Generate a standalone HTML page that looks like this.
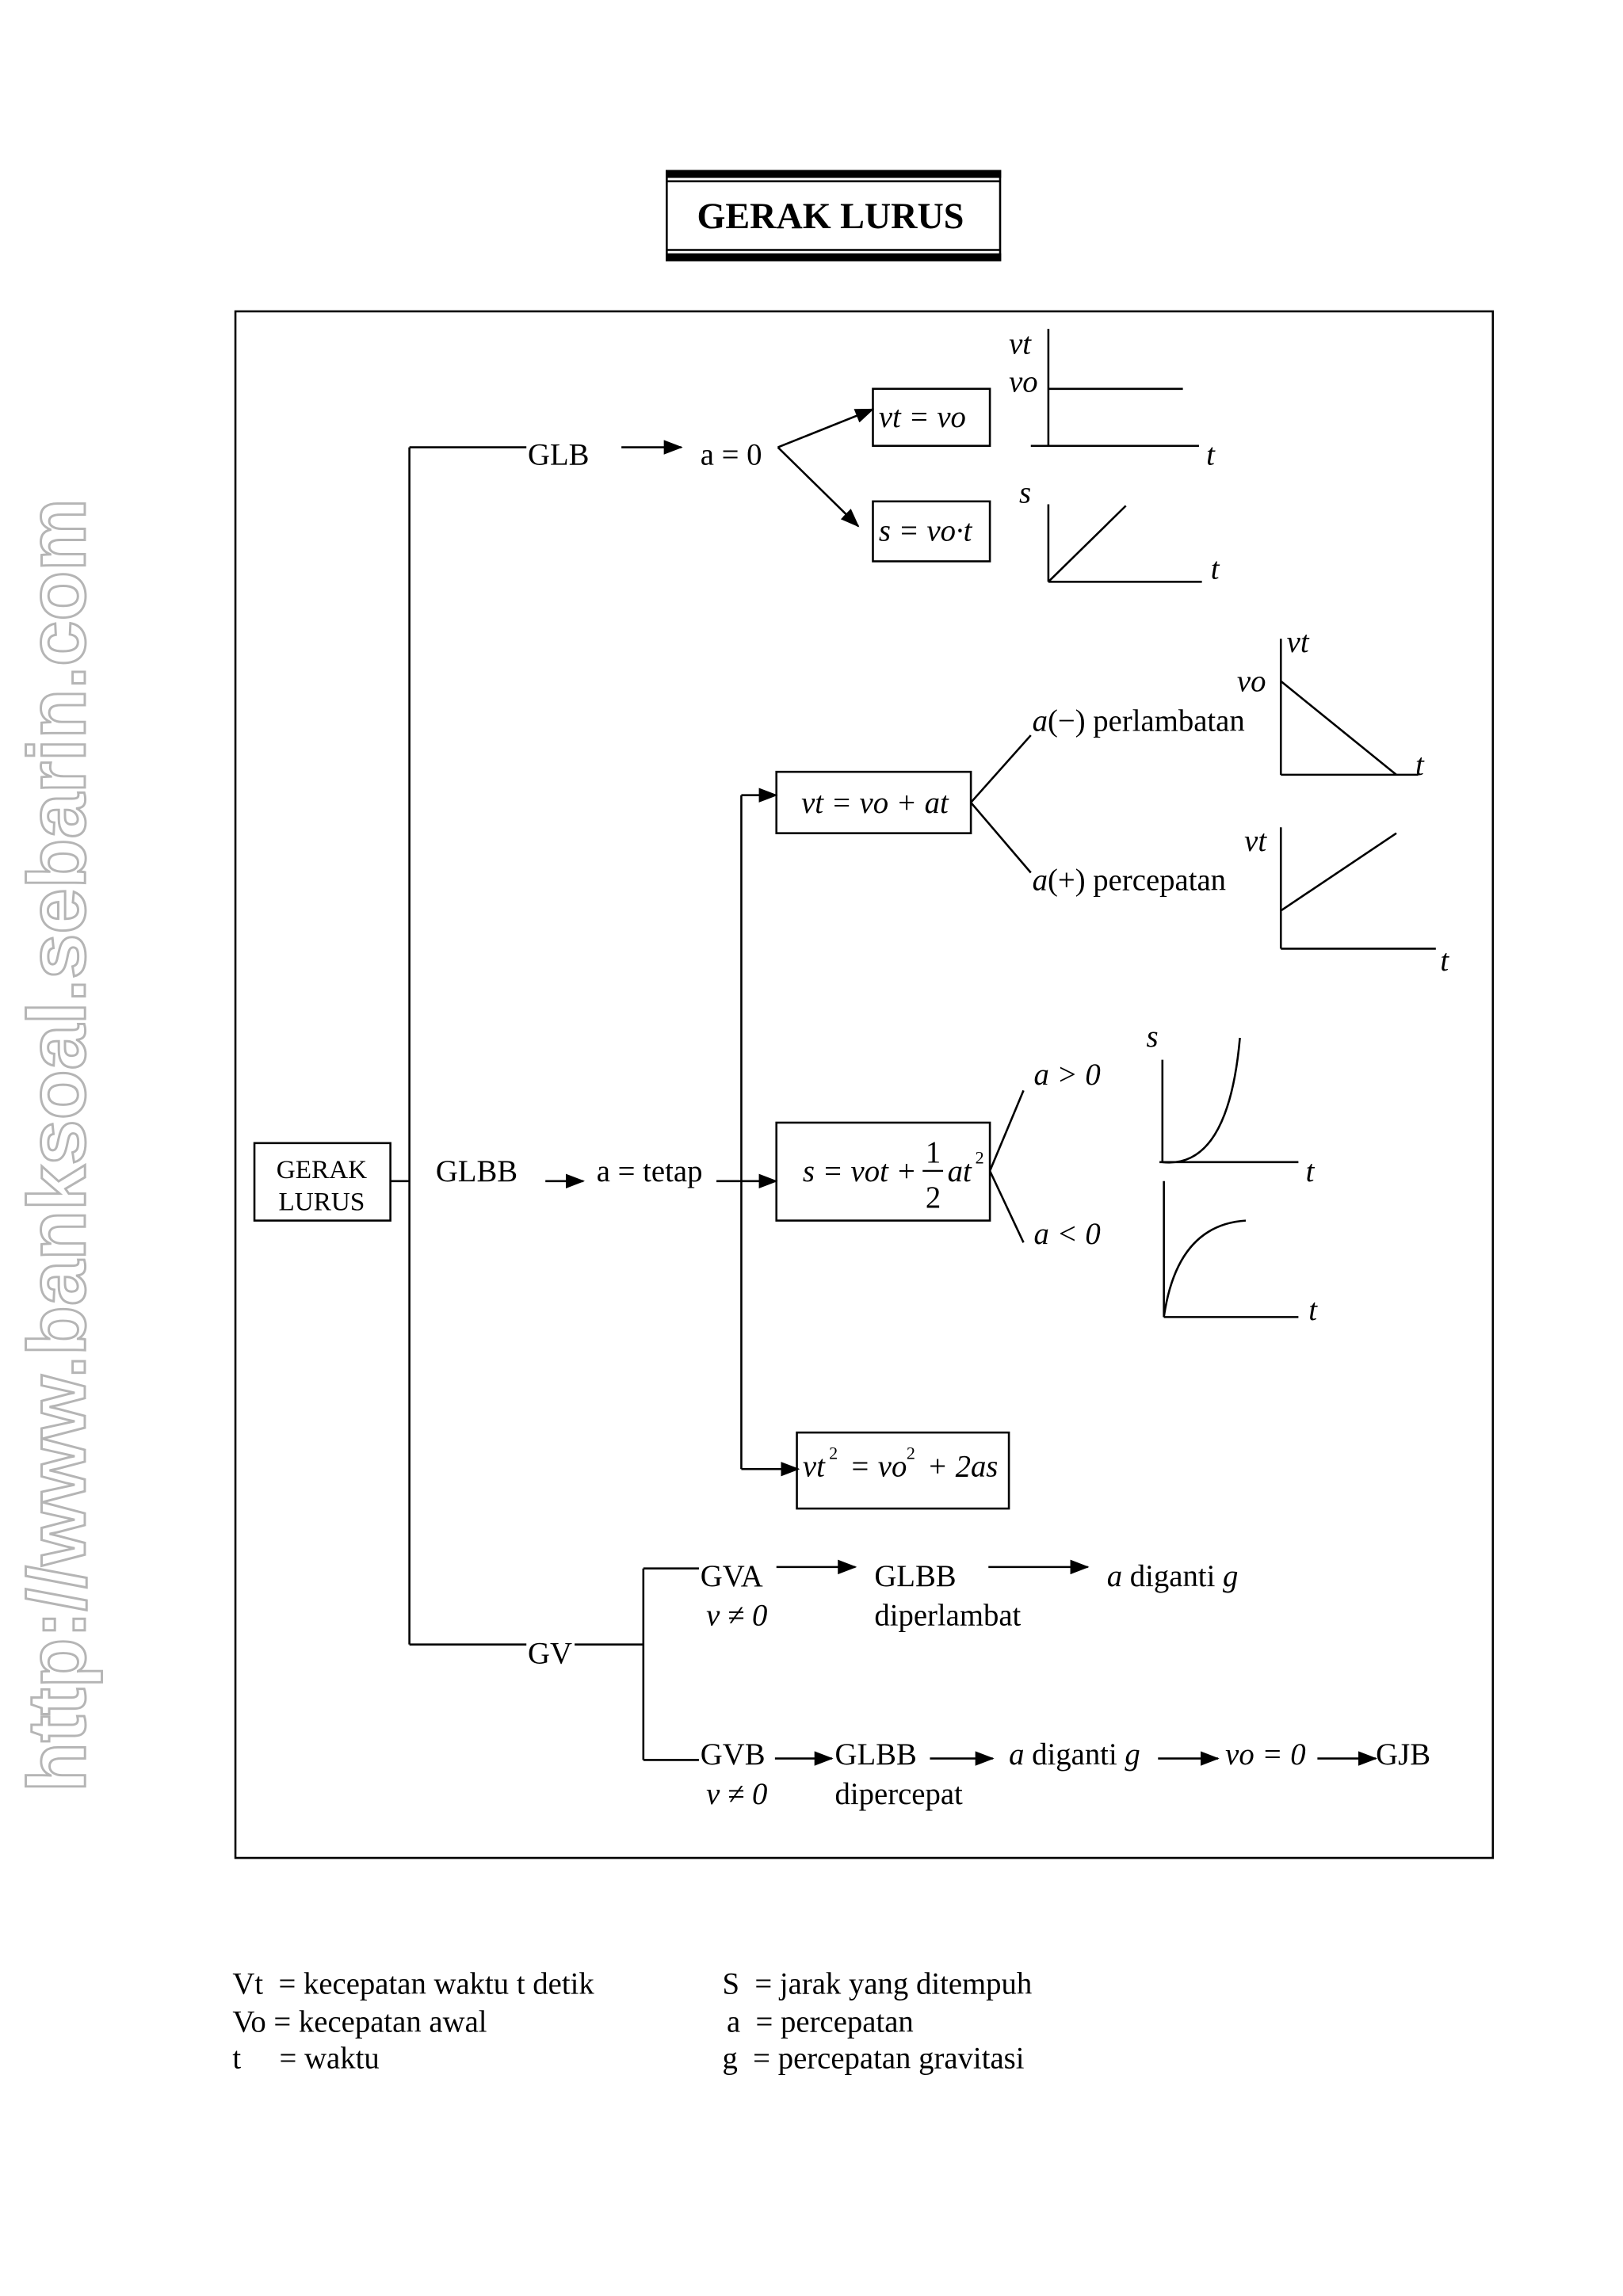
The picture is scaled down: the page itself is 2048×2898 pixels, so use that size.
<!DOCTYPE html>
<html><head><meta charset="utf-8"><style>
html,body{margin:0;padding:0;background:#fff}
svg{display:block}
text{font-family:"Liberation Serif",serif;fill:#000}
.i{font-style:italic}
</style></head><body>
<svg width="2048" height="2898" viewBox="0 0 1110 1570.7" xmlns="http://www.w3.org/2000/svg">
<defs><marker id="ah" markerWidth="13" markerHeight="10" refX="12" refY="5" orient="auto" markerUnits="userSpaceOnUse"><path d="M0,0 L13,5 L0,10 z" fill="#000"/></marker></defs>
<g stroke="#000" fill="none" stroke-width="1.4">
<text transform="translate(58,1226) rotate(-90)" x="0" y="0" textLength="885" lengthAdjust="spacingAndGlyphs" style="font-family:'Liberation Sans',sans-serif;font-weight:bold;font-size:56px;fill:#fff;stroke:#b5b5b5;stroke-width:1.6">http://www.banksoal.sebarin.com</text>
<rect x="456" y="117" width="228" height="61"/>
<rect x="456" y="117" width="228" height="4" fill="#000"/>
<line x1="456" y1="124" x2="684" y2="124"/>
<line x1="456" y1="171" x2="684" y2="171"/>
<rect x="456" y="174" width="228" height="4" fill="#000"/>
<rect x="161" y="213" width="860" height="1058"/>
<line x1="280" y1="306" x2="280" y2="1125"/>
<line x1="280" y1="306" x2="360" y2="306"/>
<line x1="280" y1="1125" x2="360" y2="1125"/>
<line x1="267" y1="808" x2="280" y2="808"/>
<rect x="174" y="782" width="93" height="53"/>
<line x1="425" y1="306" x2="466" y2="306" marker-end="url(#ah)"/>
<line x1="532" y1="306" x2="597" y2="280" marker-end="url(#ah)"/>
<line x1="532" y1="306" x2="587" y2="360" marker-end="url(#ah)"/>
<rect x="597" y="266" width="80" height="39"/>
<rect x="597" y="343" width="80" height="41"/>
<line x1="717" y1="225" x2="717" y2="305"/>
<line x1="705" y1="305" x2="820" y2="305"/>
<line x1="717" y1="266" x2="809" y2="266"/>
<line x1="717" y1="345" x2="717" y2="398"/>
<line x1="717" y1="398" x2="822" y2="398"/>
<line x1="717" y1="398" x2="770" y2="346"/>
<line x1="373" y1="808" x2="399" y2="808" marker-end="url(#ah)"/>
<line x1="490" y1="808" x2="531" y2="808" marker-end="url(#ah)"/>
<line x1="507" y1="544" x2="507" y2="1005"/>
<line x1="507" y1="544" x2="531" y2="544" marker-end="url(#ah)"/>
<line x1="507" y1="1005" x2="546" y2="1005" marker-end="url(#ah)"/>
<rect x="531" y="528" width="133" height="42"/>
<line x1="664" y1="549" x2="705" y2="503"/>
<line x1="664" y1="549" x2="705" y2="597"/>
<line x1="876" y1="437" x2="876" y2="530"/>
<line x1="876" y1="530" x2="970" y2="530"/>
<line x1="876" y1="466" x2="955" y2="530"/>
<line x1="876" y1="566" x2="876" y2="649"/>
<line x1="876" y1="649" x2="982" y2="649"/>
<line x1="876" y1="623" x2="955" y2="570"/>
<rect x="531" y="768" width="146" height="67"/>
<line x1="677" y1="801" x2="700" y2="746"/>
<line x1="677" y1="801" x2="700" y2="850"/>
<line x1="795" y1="725" x2="795" y2="795"/>
<line x1="793" y1="795" x2="888" y2="795"/>
<path d="M795,795 Q840,800 848,710"/>
<line x1="796" y1="808" x2="796" y2="901"/>
<line x1="796" y1="901" x2="888" y2="901"/>
<path d="M796,901 Q805,838 852,835"/>
<rect x="545" y="980" width="145" height="52"/>
<line x1="393" y1="1125" x2="440" y2="1125"/>
<line x1="440" y1="1073" x2="440" y2="1204"/>
<line x1="440" y1="1073" x2="478" y2="1073"/>
<line x1="440" y1="1204" x2="478" y2="1204"/>
<line x1="531" y1="1072" x2="585" y2="1072" marker-end="url(#ah)"/>
<line x1="676" y1="1072" x2="744" y2="1072" marker-end="url(#ah)"/>
<line x1="530" y1="1203" x2="569" y2="1203" marker-end="url(#ah)"/>
<line x1="636" y1="1203" x2="679" y2="1203" marker-end="url(#ah)"/>
<line x1="792" y1="1203" x2="833" y2="1203" marker-end="url(#ah)"/>
<line x1="901" y1="1203" x2="941" y2="1203" marker-end="url(#ah)"/>
</g>
<g font-size="21">
<text x="568" y="156" text-anchor="middle" font-weight="bold" font-size="25">GERAK LURUS</text>
<text x="361" y="318">GLB</text>
<text x="479" y="318">a = 0</text>
<text x="601" y="292" class="i">vt = vo</text>
<text x="601" y="370" class="i">s = vo·t</text>
<text x="690" y="242" class="i">vt</text>
<text x="690" y="268" class="i">vo</text>
<text x="825" y="318" class="i">t</text>
<text x="697" y="344" class="i">s</text>
<text x="828" y="396" class="i">t</text>
<text x="220" y="806" text-anchor="middle" font-size="18">GERAK</text>
<text x="220" y="828" text-anchor="middle" font-size="18">LURUS</text>
<text x="298" y="808">GLBB</text>
<text x="408" y="808">a = tetap</text>
<text x="548" y="556" class="i">vt = vo + at</text>
<text x="706" y="500"><tspan class="i">a</tspan>(−) perlambatan</text>
<text x="706" y="609"><tspan class="i">a</tspan>(+) percepatan</text>
<text x="880" y="446" class="i">vt</text>
<text x="846" y="473" class="i">vo</text>
<text x="968" y="530" class="i">t</text>
<text x="851" y="582" class="i">vt</text>
<text x="985" y="664" class="i">t</text>
<text x="549" y="808" class="i">s = vot +</text>
<text x="633" y="795">1</text>
<line x1="631" y1="801" x2="645" y2="801" stroke="#000" stroke-width="1.2"/>
<text x="633" y="826">2</text>
<text x="648" y="808" class="i">at</text>
<text x="667" y="796" font-size="12">2</text>
<text x="707" y="742" class="i">a &gt; 0</text>
<text x="707" y="851" class="i">a &lt; 0</text>
<text x="784" y="716" class="i">s</text>
<text x="893" y="808" class="i">t</text>
<text x="895" y="903" class="i">t</text>
<text x="549" y="1010" class="i">vt</text>
<text x="567" y="998" font-size="12">2</text>
<text x="581" y="1010" class="i">= vo</text>
<text x="620" y="998" font-size="12">2</text>
<text x="634" y="1010" class="i">+ 2as</text>
<text x="361" y="1138">GV</text>
<text x="479" y="1085">GVA</text>
<text x="483" y="1112" class="i">v ≠ 0</text>
<text x="598" y="1085">GLBB</text>
<text x="598" y="1112">diperlambat</text>
<text x="757" y="1085"><tspan class="i">a</tspan> diganti <tspan class="i">g</tspan></text>
<text x="479" y="1207">GVB</text>
<text x="483" y="1234" class="i">v ≠ 0</text>
<text x="571" y="1207">GLBB</text>
<text x="571" y="1234">dipercepat</text>
<text x="690" y="1207"><tspan class="i">a</tspan> diganti <tspan class="i">g</tspan></text>
<text x="838" y="1207" class="i">vo = 0</text>
<text x="941" y="1207">GJB</text>
<text x="159" y="1364" xml:space="preserve">Vt  = kecepatan waktu t detik</text>
<text x="159" y="1390">Vo = kecepatan awal</text>
<text x="159" y="1415" xml:space="preserve">t     = waktu</text>
<text x="494" y="1364" xml:space="preserve">S  = jarak yang ditempuh</text>
<text x="497" y="1390" xml:space="preserve">a  = percepatan</text>
<text x="494" y="1415" xml:space="preserve">g  = percepatan gravitasi</text>
</g>
</svg>
</body></html>
